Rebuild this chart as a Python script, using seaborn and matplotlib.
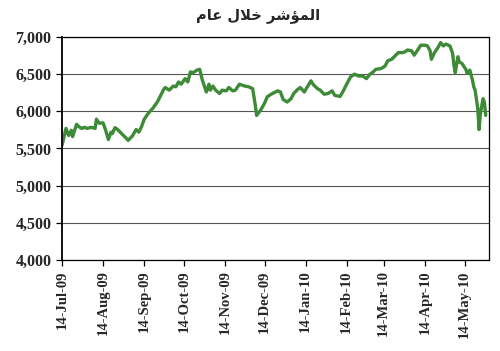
import numpy as np
import pandas as pd
import matplotlib
matplotlib.use("Agg")
import matplotlib.pyplot as plt
import matplotlib.dates as mdates
from matplotlib.ticker import FuncFormatter, MultipleLocator
import seaborn as sns

TITLE = "المؤشر خلال عام"

dates = [
    "2009-07-14", "2009-07-17", "2009-07-19", "2009-07-21", "2009-07-22", "2009-07-25",
    "2009-07-27", "2009-07-29", "2009-07-31", "2009-08-02", "2009-08-05", "2009-08-08",
    "2009-08-09", "2009-08-11", "2009-08-14", "2009-08-16", "2009-08-18", "2009-08-20",
    "2009-08-21", "2009-08-23", "2009-08-25", "2009-08-28", "2009-08-31", "2009-09-02",
    "2009-09-05", "2009-09-08", "2009-09-10", "2009-09-12", "2009-09-14", "2009-09-17",
    "2009-09-21", "2009-09-24", "2009-09-27", "2009-09-29", "2009-09-30", "2009-10-03",
    "2009-10-06", "2009-10-08", "2009-10-10", "2009-10-12", "2009-10-15", "2009-10-17",
    "2009-10-19", "2009-10-21", "2009-10-24", "2009-10-26", "2009-10-28", "2009-10-31",
    "2009-11-02", "2009-11-03", "2009-11-05", "2009-11-07", "2009-11-10", "2009-11-12",
    "2009-11-15", "2009-11-17", "2009-11-20", "2009-11-22", "2009-11-25", "2009-11-29",
    "2009-12-02", "2009-12-05", "2009-12-07", "2009-12-08", "2009-12-11", "2009-12-14",
    "2009-12-16", "2009-12-19", "2009-12-21", "2009-12-24", "2009-12-26", "2009-12-28",
    "2009-12-31", "2010-01-03", "2010-01-05", "2010-01-08", "2010-01-10", "2010-01-13",
    "2010-01-15", "2010-01-18", "2010-01-20", "2010-01-23", "2010-01-25", "2010-01-28",
    "2010-01-31", "2010-02-03", "2010-02-05", "2010-02-09", "2010-02-11", "2010-02-14",
    "2010-02-17", "2010-02-20", "2010-02-23", "2010-02-26", "2010-03-01", "2010-03-03",
    "2010-03-06", "2010-03-08", "2010-03-12", "2010-03-15", "2010-03-17", "2010-03-20",
    "2010-03-23", "2010-03-25", "2010-03-28", "2010-03-30", "2010-04-01", "2010-04-04",
    "2010-04-06", "2010-04-09", "2010-04-11", "2010-04-14", "2010-04-16", "2010-04-18",
    "2010-04-19", "2010-04-21", "2010-04-24", "2010-04-26", "2010-04-28", "2010-04-30",
    "2010-05-03", "2010-05-05", "2010-05-06", "2010-05-07", "2010-05-09", "2010-05-10",
    "2010-05-12", "2010-05-15", "2010-05-16", "2010-05-18", "2010-05-20", "2010-05-21",
    "2010-05-22", "2010-05-24", "2010-05-25", "2010-05-26", "2010-05-28", "2010-05-29",
    "2010-05-30",
]

index_values = [
    5541, 5770, 5675, 5745, 5660, 5825,
    5790, 5770, 5785, 5770, 5785, 5770,
    5895, 5840, 5845, 5745, 5620, 5720,
    5700, 5780, 5755, 5700, 5645, 5610,
    5665, 5755, 5720, 5790, 5890, 5970,
    6050, 6125, 6230, 6300, 6320, 6285,
    6340, 6330, 6395, 6365, 6440, 6395,
    6530, 6520, 6555, 6565, 6420, 6260,
    6365, 6285, 6340, 6285, 6240, 6285,
    6275, 6320, 6275, 6285, 6365, 6340,
    6330, 6305, 6080, 5945, 6015, 6110,
    6195, 6230, 6250, 6275, 6260, 6160,
    6125, 6170, 6240, 6295, 6320, 6260,
    6320, 6410, 6355, 6305, 6285, 6230,
    6240, 6275, 6215, 6200, 6260, 6365,
    6465, 6500, 6475, 6475, 6440, 6490,
    6530, 6565, 6575, 6610, 6680, 6700,
    6755, 6790, 6790, 6800, 6825, 6815,
    6755, 6835, 6890, 6890, 6880, 6815,
    6700, 6780, 6860, 6925, 6880, 6905,
    6880, 6780, 6620, 6520, 6735, 6665,
    6645, 6565, 6510, 6555, 6420, 6330,
    6285, 6040, 5755, 5970, 6170, 6125,
    5945,
]

tick_dates = ["2009-07-14", "2009-08-14", "2009-09-14", "2009-10-14", "2009-11-14",
              "2009-12-14", "2010-01-14", "2010-02-14", "2010-03-14", "2010-04-14",
              "2010-05-14"]
y_ticks = [4000, 4500, 5000, 5500, 6000, 6500, 7000]


def shape_arabic(text):
    # minimal contextual shaping + visual reordering for the letters used
    forms = {
        "ا": ("\uFE8D", "\uFE8E"),
        "ؤ": ("\uFE85", "\uFE86"),
        "ر": ("\uFEAD", "\uFEAE"),
        "ل": ("\uFEDD", "\uFEDE", "\uFEDF", "\uFEE0"),
        "م": ("\uFEE1", "\uFEE2", "\uFEE3", "\uFEE4"),
        "ش": ("\uFEB5", "\uFEB6", "\uFEB7", "\uFEB8"),
        "خ": ("\uFEA5", "\uFEA6", "\uFEA7", "\uFEA8"),
        "ع": ("\uFEC9", "\uFECA", "\uFECB", "\uFECC"),
    }
    out = []
    i = 0
    n = len(text)
    while i < n:
        c = text[i]
        if c not in forms:
            out.append(c)
            i += 1
            continue
        prev = text[i - 1] if i > 0 else " "
        joins_prev = prev in forms and len(forms[prev]) == 4
        if c == "ل" and i + 1 < n and text[i + 1] == "ا":
            out.append("\uFEFC" if joins_prev else "\uFEFB")
            i += 2
            continue
        nxt = text[i + 1] if i + 1 < n else " "
        joins_next = len(forms[c]) == 4 and nxt in forms
        f = forms[c]
        if joins_prev and joins_next:
            g = f[3]
        elif joins_prev:
            g = f[1]
        elif joins_next:
            g = f[2]
        else:
            g = f[0]
        out.append(g)
        i += 1
    return "".join(reversed(out))


df = pd.DataFrame({"date": pd.to_datetime(dates), "value": index_values})

sns.set_style("white")
plt.rcParams["font.family"] = ["Liberation Serif", "DejaVu Serif"]

fig = plt.figure(figsize=(5.0, 3.51), dpi=100)
ax = fig.add_axes([0.124, 0.2593, 0.854, 0.6353])

sns.lineplot(data=df, x="date", y="value", ax=ax, color="#3d8b37", linewidth=2.4)

ax.set_ylim(4000, 7000)
ax.set_xlim(pd.Timestamp("2009-07-14"), pd.Timestamp("2010-06-01 12:00"))
ax.set_yticks(y_ticks)
ax.yaxis.set_major_formatter(FuncFormatter(lambda v, p: f"{int(v):,}"))
ax.set_xticks(pd.to_datetime(tick_dates))
ax.xaxis.set_major_formatter(mdates.DateFormatter("%d-%b-%y"))

ax.grid(axis="y", color="#555555", linewidth=0.8)
ax.set_axisbelow(True)
for s in ax.spines.values():
    s.set_visible(True)
    s.set_color("black")
    s.set_linewidth(0.9)
ax.spines["left"].set_linewidth(1.3)

ax.tick_params(axis="both", which="major", direction="out", length=4, width=0.9,
               color="black", left=True, bottom=True)
for lab in ax.get_yticklabels():
    lab.set_fontsize(11.5)
    lab.set_fontweight("bold")
for lab in ax.get_xticklabels():
    lab.set_fontsize(10.5)
    lab.set_fontweight("bold")
    lab.set_rotation(90)

ax.set_xlabel("")
ax.set_ylabel("")

fig.text(0.516, 0.955, shape_arabic(TITLE), ha="center", va="center",
         fontsize=10.5, fontweight="bold", family=["DejaVu Sans"])

fig.savefig("out.png", dpi=100, facecolor="white")
